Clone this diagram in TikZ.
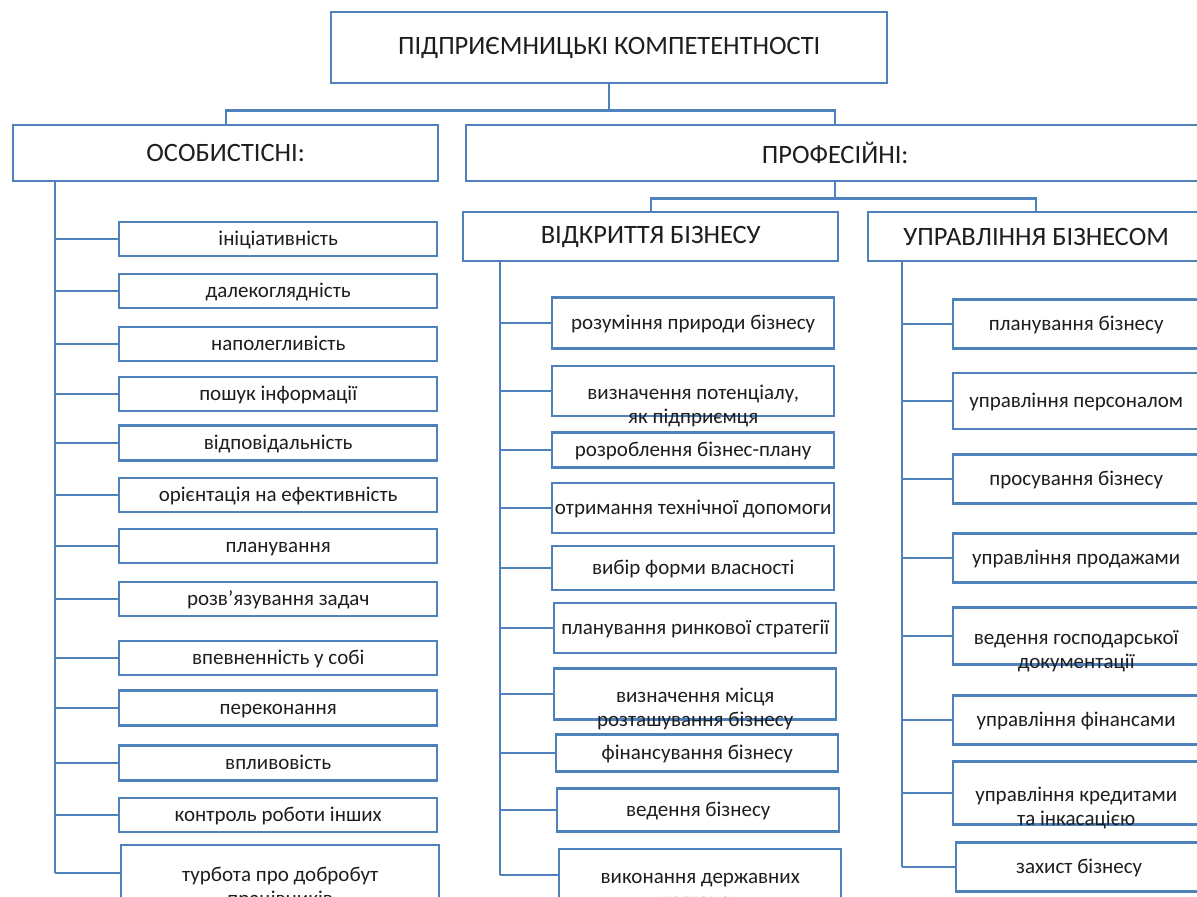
\documentclass[tikz,border=0pt]{standalone}
\usepackage{fontspec}
\setmainfont{Carlito}
\usepackage{xcolor}
\usepackage{tikz}
\usetikzlibrary{calc,positioning}
\definecolor{boxblue}{RGB}{79,129,189}
\definecolor{ink}{RGB}{30,30,30}
\tikzset{
    basebox/.style={
        rectangle,
        draw=boxblue, line width=2.4pt,
        fill=white,
        text=ink,
        align=center,
        inner sep=0pt,
        font={\fontsize{21pt}{24pt}\selectfont}
    },
    box/.style={
        basebox,
        text height=17pt,
        text depth=5pt
    },
    twobox/.style={
        basebox,
        align=flush center,
        text width=236pt,
        execute at begin node=\strut,
        text depth=-0.8pt
    },
    headbox/.style={
        basebox,
        font={\fontsize{26.5pt}{30pt}\selectfont}
    },
    line/.style={draw=boxblue, line width=2.4pt},
}

\begin{document}
\begin{tikzpicture}[x=1pt, y=-1pt]
\useasboundingbox (0,0) rectangle (1197,897);
\clip (0,0) rectangle (1197,897);

% top levels
\node [headbox, anchor=north west, minimum width=556pt, minimum height=71pt] (top) at (330,11) {ПІДПРИЄМНИЦЬКІ КОМПЕТЕНТНОСТІ};
\node [headbox, anchor=north west, minimum width=425pt, minimum height=56pt] (osob) at (12,124) {ОСОБИСТІСНІ:};
\node [headbox, anchor=north west, minimum width=738pt, minimum height=56pt] (prof) at (465,124) {ПРОФЕСІЙНІ:};
\node [headbox, anchor=north west, minimum width=375pt, minimum height=49pt] (vidkr) at (462,211) {ВІДКРИТТЯ БІЗНЕСУ};
\node [headbox, anchor=north west, minimum width=336pt, minimum height=49pt] (uprav) at (867,211) {УПРАВЛІННЯ БІЗНЕСОМ};

\draw [line] (top.south) -- ++(0,26) coordinate (bar1);
\draw [line] (osob.north) |- (bar1) -| (prof.north);
\draw [line] (prof.south) -- ++(0,16) coordinate (bar2);
\draw [line] (vidkr.north) |- (bar2) -| (uprav.north);

\coordinate (lspine) at (55,0);
\coordinate (mspine) at (500,0);
\coordinate (rspine) at (902,0);

% personal
\foreach \x/\y/\h/\s/\t [count=\i] in {
  118/239/34/box/ініціативність,
  118/291/34/box/далекоглядність,
  118/344/34/box/наполегливість,
  118/394/34/box/пошук інформації,
  118/443/35/box/відповідальність,
  118/495/34/box/орієнтація на ефективність,
  118/546/34/box/планування,
  118/599/34/box/розв'язування задач,
  118/658/34/box/впевненність у собі,
  118/708/35/box/переконання,
  118/763/35/box/впливовість,
  118/815/34/box/контроль роботи інших,
  120/873/56/twobox/{турбота про добробут\\працівників}}
  \node [\s, anchor=west, minimum width=318pt, minimum height=\h pt] (os-\i) at (\x,\y) {\t};

% opening a business
\foreach \x/\y/\h/\s/\t [count=\i] in {
  551/323/51/box/розуміння природи бізнесу,
  551/391/50/twobox/{визначення потенціалу,\\як підприємця},
  551/450/35/box/розроблення бізнес-плану,
  551/508/50/box/отримання технічної допомоги,
  551/568/44/box/вибір форми власності,
  553/628/50/box/планування ринкової стратегії,
  553/694/51/twobox/{визначення місця\\розташування бізнесу},
  555/753/37/box/фінансування бізнесу,
  556/810/43/box/ведення бізнесу,
  558/875/52/twobox/{виконання державних\\постанов}}
  \node [\s, anchor=west, minimum width=282pt, minimum height=\h pt] (vb-\i) at (\x,\y) {\t};

% running a business
\foreach \x/\y/\h/\s/\t [count=\i] in {
  952/324/49/box/планування бізнесу,
  952/401/56/box/управління персоналом,
  952/479/49/box/просування бізнесу,
  952/558/49/box/управління продажами,
  952/636/57/twobox/{ведення господарської\\документації},
  952/720/49/box/управління фінансами,
  952/793/63/twobox/{управління кредитами\\та інкасацією},
  955/867/49/box/захист бізнесу}
  \node [\s, anchor=west, minimum width=246pt, minimum height=\h pt] (ub-\i) at (\x,\y) {\t};

% spines
\draw [line] (lspine |- osob.south) -- (lspine |- os-13.west);
\foreach \i in {1,...,13}
  \draw [line] (os-\i.west) -- (os-\i.west -| lspine);

\draw [line] (mspine |- vidkr.south) -- (mspine |- vb-10.west);
\foreach \i in {1,...,10}
  \draw [line] (vb-\i.west) -- (vb-\i.west -| mspine);

\draw [line] (rspine |- uprav.south) -- (rspine |- ub-8.west);
\foreach \i in {1,...,8}
  \draw [line] (ub-\i.west) -- (ub-\i.west -| rspine);

\end{tikzpicture}
\end{document}
